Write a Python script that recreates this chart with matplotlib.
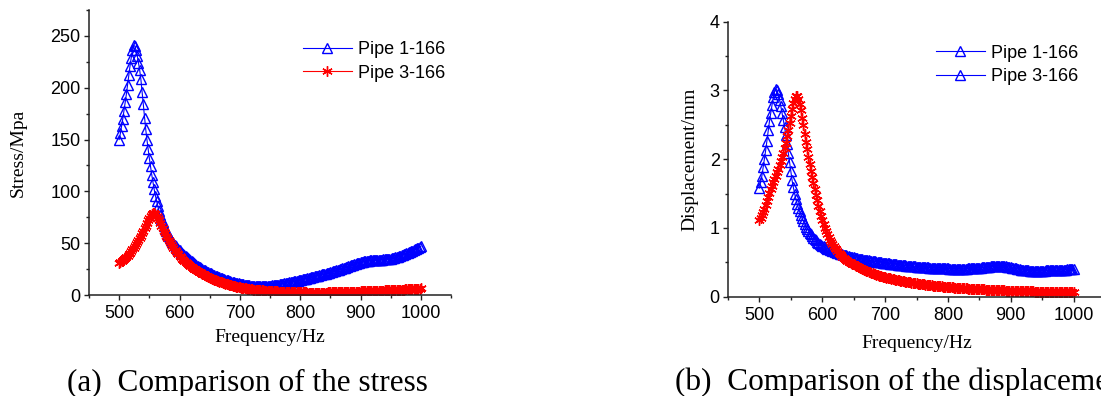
import numpy as np
import matplotlib
matplotlib.use("Agg")
import matplotlib.pyplot as plt
from matplotlib.lines import Line2D
from matplotlib.ticker import MultipleLocator

freq = np.arange(500, 1001, 2)

stress_pipe1 = [
    150, 156, 163, 170, 178, 186, 194, 203, 212, 221,
    229, 236, 241, 240, 236, 231, 224, 217, 208, 196,
    184, 171, 160, 150, 141, 132, 124, 116, 109, 102,
    96, 91, 86, 81, 77, 73, 70, 67, 64, 61.5,
    59, 57, 55, 53, 51.5, 50, 48.5, 47, 45.5, 44.2,
    43, 41.8, 40.6, 39.5, 38.4, 37.3, 36.3, 35.3, 34.3, 33.4,
    32.5, 31.6, 30.7, 29.9, 29.1, 28.3, 27.5, 26.8, 26.0, 25.3,
    24.6, 23.9, 23.3, 22.6, 22.0, 21.4, 20.8, 20.2, 19.7, 19.1,
    18.6, 18.1, 17.6, 17.1, 16.6, 16.2, 15.7, 15.3, 14.9, 14.5,
    14.1, 13.7, 13.3, 13.0, 12.6, 12.3, 12.0, 11.7, 11.4, 11.1,
    10.8, 10.6, 10.4, 10.2, 10.0, 9.8, 9.6, 9.4, 9.3, 9.1,
    9.0, 8.9, 8.8, 8.7, 8.6, 8.6, 8.5, 8.5, 8.5, 8.5,
    8.5, 8.5, 8.6, 8.7, 8.8, 8.9, 9.0, 9.2, 9.3, 9.5,
    9.7, 9.9, 10.1, 10.3, 10.5, 10.7, 10.9, 11.1, 11.4, 11.6,
    11.9, 12.1, 12.3, 12.6, 12.8, 13.1, 13.3, 13.6, 13.9, 14.2,
    14.5, 14.8, 15.1, 15.4, 15.6, 15.9, 16.2, 16.5, 16.8, 17.0,
    17.3, 17.6, 17.9, 18.2, 18.5, 18.8, 19.1, 19.4, 19.8, 20.1,
    20.4, 20.7, 21.0, 21.3, 21.7, 22.0, 22.4, 22.7, 23.1, 23.4,
    23.8, 24.2, 24.6, 24.9, 25.3, 25.7, 26.1, 26.5, 26.9, 27.3,
    27.7, 28.1, 28.5, 28.9, 29.4, 29.8, 30.2, 30.6, 30.9, 31.3,
    31.6, 31.9, 32.2, 32.4, 32.7, 32.9, 33.0, 33.2, 33.3, 33.5,
    33.6, 33.7, 33.8, 33.8, 33.9, 34.0, 34.1, 34.1, 34.2, 34.3,
    34.4, 34.5, 34.7, 34.8, 35.0, 35.2, 35.4, 35.7, 35.9, 36.2,
    36.6, 37.0, 37.4, 37.8, 38.2, 38.6, 39.1, 39.6, 40.1, 40.7,
    41.2, 41.8, 42.3, 42.9, 43.4, 44.0, 44.6, 45.2, 45.8, 46.4,
    47.0,
]

stress_pipe3 = [
    31, 32, 33, 34, 35, 36, 37, 38, 39.5, 41,
    42.5, 44, 45.5, 47, 49, 51, 53, 55, 57, 59.5,
    62, 64.5, 67, 69.5, 72, 74.5, 76.5, 78, 79, 79,
    78, 76.5, 74.5, 72, 69.5, 67, 64.5, 62, 59.5, 57,
    55, 53, 51, 49, 47.2, 45.5, 43.9, 42.3, 40.8, 39.3,
    37.5, 36.3, 35.1, 34.0, 32.9, 31.9, 30.9, 29.9, 29.0, 28.1,
    27.2, 26.3, 25.5, 24.7, 23.9, 23.2, 22.5, 21.8, 21.1, 20.4,
    19.8, 19.2, 18.6, 18.0, 17.4, 16.8, 16.3, 15.8, 15.3, 14.8,
    14.3, 13.8, 13.4, 13.0, 12.5, 12.1, 11.7, 11.3, 11.0, 10.6,
    10.3, 9.9, 9.6, 9.3, 9.0, 8.7, 8.4, 8.1, 7.9, 7.6,
    7.4, 7.1, 6.9, 6.7, 6.5, 6.3, 6.1, 5.9, 5.8, 5.6,
    5.4, 5.3, 5.2, 5.0, 4.9, 4.8, 4.7, 4.6, 4.5, 4.4,
    4.3, 4.2, 4.1, 4.0, 3.9, 3.8, 3.7, 3.7, 3.6, 3.5,
    3.4, 3.4, 3.3, 3.2, 3.2, 3.1, 3.1, 3.0, 3.0, 2.9,
    2.9, 2.8, 2.8, 2.8, 2.7, 2.7, 2.7, 2.6, 2.6, 2.6,
    2.6, 2.5, 2.5, 2.5, 2.5, 2.5, 2.4, 2.4, 2.4, 2.4,
    2.4, 2.4, 2.4, 2.4, 2.4, 2.4, 2.4, 2.4, 2.4, 2.4,
    2.4, 2.4, 2.4, 2.5, 2.5, 2.5, 2.5, 2.5, 2.5, 2.6,
    2.6, 2.6, 2.6, 2.7, 2.7, 2.7, 2.8, 2.8, 2.8, 2.9,
    2.9, 3.0, 3.0, 3.0, 3.1, 3.1, 3.2, 3.2, 3.3, 3.3,
    3.4, 3.4, 3.5, 3.5, 3.6, 3.6, 3.7, 3.7, 3.8, 3.8,
    3.9, 3.9, 4.0, 4.0, 4.1, 4.1, 4.2, 4.2, 4.3, 4.3,
    4.4, 4.4, 4.5, 4.5, 4.6, 4.6, 4.7, 4.7, 4.8, 4.9,
    4.9, 5.0, 5.0, 5.1, 5.2, 5.2, 5.3, 5.4, 5.4, 5.5,
    5.6, 5.6, 5.7, 5.8, 5.8, 5.9, 6.0, 6.0, 6.1, 6.2,
    6.3,
]

disp_pipe1 = [
    1.58, 1.67, 1.76, 1.88, 2.00, 2.13, 2.27, 2.42, 2.55, 2.67,
    2.79, 2.90, 2.98, 3.02, 3.00, 2.94, 2.86, 2.77, 2.67, 2.57,
    2.47, 2.35, 2.22, 2.09, 1.96, 1.82, 1.69, 1.59, 1.50, 1.42,
    1.35, 1.29, 1.24, 1.19, 1.14, 1.10, 1.06, 1.02, 0.99, 0.96,
    0.93, 0.905, 0.88, 0.86, 0.84, 0.82, 0.80, 0.785, 0.77, 0.755,
    0.74, 0.73, 0.72, 0.71, 0.70, 0.69, 0.68, 0.675, 0.668, 0.66,
    0.653, 0.646, 0.64, 0.633, 0.627, 0.621, 0.615, 0.61, 0.604, 0.599,
    0.594, 0.589, 0.584, 0.58, 0.575, 0.571, 0.567, 0.563, 0.559, 0.555,
    0.551, 0.547, 0.544, 0.54, 0.537, 0.533, 0.53, 0.527, 0.524, 0.521,
    0.518, 0.515, 0.512, 0.509, 0.506, 0.503, 0.50, 0.498, 0.495, 0.493,
    0.49, 0.488, 0.485, 0.483, 0.48, 0.478, 0.476, 0.473, 0.471, 0.469,
    0.467, 0.465, 0.463, 0.461, 0.459, 0.457, 0.455, 0.453, 0.451, 0.449,
    0.447, 0.445, 0.443, 0.441, 0.44, 0.438, 0.436, 0.435, 0.433, 0.432,
    0.43, 0.429, 0.427, 0.426, 0.425, 0.423, 0.422, 0.421, 0.42, 0.419,
    0.418, 0.417, 0.416, 0.415, 0.414, 0.413, 0.412, 0.411, 0.411, 0.41,
    0.41, 0.409, 0.409, 0.408, 0.408, 0.408, 0.407, 0.407, 0.407, 0.407,
    0.407, 0.407, 0.408, 0.408, 0.409, 0.409, 0.41, 0.411, 0.412, 0.413,
    0.414, 0.415, 0.417, 0.418, 0.42, 0.421, 0.423, 0.425, 0.427, 0.429,
    0.431, 0.433, 0.435, 0.437, 0.439, 0.44, 0.442, 0.443, 0.444, 0.445,
    0.445, 0.445, 0.445, 0.444, 0.443, 0.441, 0.439, 0.436, 0.433, 0.43,
    0.427, 0.423, 0.419, 0.415, 0.411, 0.407, 0.403, 0.399, 0.395, 0.391,
    0.388, 0.386, 0.384, 0.382, 0.381, 0.38, 0.379, 0.379, 0.378, 0.378,
    0.378, 0.378, 0.378, 0.378, 0.379, 0.379, 0.38, 0.38, 0.381, 0.381,
    0.382, 0.383, 0.383, 0.384, 0.385, 0.386, 0.387, 0.388, 0.389, 0.39,
    0.391, 0.392, 0.393, 0.394, 0.395, 0.396, 0.397, 0.398, 0.399, 0.40,
    0.40,
]

disp_pipe3 = [
    1.12, 1.15, 1.19, 1.23, 1.28, 1.33, 1.39, 1.45, 1.51, 1.56,
    1.61, 1.66, 1.71, 1.76, 1.81, 1.86, 1.91, 1.97, 2.03, 2.09,
    2.16, 2.24, 2.33, 2.43, 2.53, 2.63, 2.73, 2.81, 2.87, 2.91,
    2.91, 2.87, 2.80, 2.71, 2.60, 2.49, 2.37, 2.25, 2.14, 2.03,
    1.93, 1.83, 1.74, 1.65, 1.56, 1.48, 1.40, 1.32, 1.24, 1.17,
    1.11, 1.05, 1.00, 0.95, 0.91, 0.87, 0.83, 0.80, 0.77, 0.74,
    0.71, 0.69, 0.66, 0.64, 0.62, 0.60, 0.58, 0.565, 0.55, 0.535,
    0.52, 0.51, 0.50, 0.49, 0.48, 0.47, 0.46, 0.45, 0.44, 0.43,
    0.42, 0.41, 0.40, 0.392, 0.384, 0.376, 0.368, 0.36, 0.353, 0.346,
    0.339, 0.332, 0.326, 0.32, 0.314, 0.308, 0.302, 0.297, 0.292, 0.287,
    0.282, 0.278, 0.274, 0.27, 0.265, 0.261, 0.257, 0.253, 0.249, 0.245,
    0.241, 0.237, 0.234, 0.23, 0.227, 0.223, 0.22, 0.217, 0.213, 0.21,
    0.207, 0.204, 0.201, 0.198, 0.196, 0.193, 0.19, 0.188, 0.185, 0.183,
    0.18, 0.178, 0.175, 0.173, 0.171, 0.169, 0.166, 0.164, 0.162, 0.16,
    0.158, 0.156, 0.154, 0.152, 0.151, 0.149, 0.147, 0.145, 0.144, 0.142,
    0.14, 0.139, 0.137, 0.136, 0.134, 0.133, 0.131, 0.13, 0.129, 0.127,
    0.126, 0.125, 0.123, 0.122, 0.121, 0.12, 0.118, 0.117, 0.116, 0.115,
    0.114, 0.113, 0.112, 0.111, 0.11, 0.109, 0.108, 0.107, 0.106, 0.105,
    0.104, 0.103, 0.102, 0.101, 0.1, 0.099, 0.098, 0.097, 0.096, 0.096,
    0.095, 0.094, 0.093, 0.092, 0.092, 0.091, 0.09, 0.089, 0.089, 0.088,
    0.087, 0.086, 0.086, 0.085, 0.084, 0.084, 0.083, 0.082, 0.082, 0.081,
    0.08, 0.08, 0.079, 0.079, 0.078, 0.077, 0.077, 0.076, 0.076, 0.075,
    0.075, 0.074, 0.074, 0.073, 0.073, 0.072, 0.072, 0.071, 0.071, 0.07,
    0.07, 0.07, 0.069, 0.069, 0.068, 0.068, 0.068, 0.067, 0.067, 0.066,
    0.066, 0.066, 0.065, 0.065, 0.065, 0.064, 0.064, 0.064, 0.063, 0.063,
    0.063,
]

labels = ["Pipe 1-166", "Pipe 3-166"]
captions = ["(a)  Comparison of the stress", "(b)  Comparison of the displacement"]

BLUE = "#0000ff"
RED = "#ff0000"
SANS = ["Liberation Sans", "DejaVu Sans"]
SERIF = ["Liberation Serif", "DejaVu Serif"]
ASTER = (6, 2, 0)

W, H = 1101, 396
fig = plt.figure(figsize=(W / 100, H / 100), dpi=100)


def px_axes(x0, x1, ytop, ybot):
    return fig.add_axes([x0 / W, (H - ybot) / H, (x1 - x0) / W, (ybot - ytop) / H])


ax1 = px_axes(89, 451, 10, 295)
ax2 = px_axes(728, 1105, 21.5, 296.7)

blue_kw = dict(color=BLUE, lw=0.8, marker="^", markersize=6.5, mfc="none",
               mec=BLUE, mew=1.0)
red_kw = dict(color=RED, lw=0.8, marker=ASTER, markersize=7.5, mec=RED, mew=1.0)

ax1.plot(freq, stress_pipe1, **blue_kw)
ax1.plot(freq, stress_pipe3, **red_kw)
ax2.plot(freq, disp_pipe1, **blue_kw)
ax2.plot(freq, disp_pipe3, **red_kw)

ax1.set_xlim(450, 1050)
ax1.set_ylim(0, 275)
ax1.xaxis.set_major_locator(MultipleLocator(100))
ax1.xaxis.set_minor_locator(MultipleLocator(50))
ax1.yaxis.set_major_locator(MultipleLocator(50))
ax1.yaxis.set_minor_locator(MultipleLocator(25))

ax2.set_xlim(450, 1050)
ax2.set_ylim(0, 4)
ax2.xaxis.set_major_locator(MultipleLocator(100))
ax2.xaxis.set_minor_locator(MultipleLocator(50))
ax2.yaxis.set_major_locator(MultipleLocator(1))
ax2.yaxis.set_minor_locator(MultipleLocator(0.5))

for ax in (ax1, ax2):
    ax.spines["top"].set_visible(False)
    ax.spines["right"].set_visible(False)
    for s in ("left", "bottom"):
        ax.spines[s].set_linewidth(1.1)
        ax.spines[s].set_color("#222222")
    ax.tick_params(which="major", direction="out", length=3.5, width=1.0,
                   color="#222222", pad=2.5)
    ax.tick_params(axis="x", which="major", pad=4)
    ax.tick_params(which="minor", direction="out", length=2.5, width=1.0,
                   color="#222222")
    for lab in ax.get_xticklabels() + ax.get_yticklabels():
        lab.set_fontfamily(SANS)
        lab.set_fontsize(13)

ax1.set_xlabel("Frequency/Hz", fontfamily=SERIF, fontsize=14, labelpad=5)
ax2.set_xlabel("Frequency/Hz", fontfamily=SERIF, fontsize=14, labelpad=8)
ax1.set_ylabel("Stress/Mpa", fontfamily=SERIF, fontsize=14, labelpad=17)
ax2.set_ylabel("Displacement/mm", fontfamily=SERIF, fontsize=14, labelpad=8)

# Legends
h_blue = Line2D([], [], **blue_kw)
h_red = Line2D([], [], **red_kw)
leg_kw = dict(frameon=False, prop={"family": SANS, "size": 13}, handlelength=2.7,
              handletextpad=0.35, labelspacing=0.35, borderaxespad=0, borderpad=0,
              loc="upper left", numpoints=1)
ax1.legend([h_blue, h_red], labels, bbox_to_anchor=(0.591, 0.89), **leg_kw)
ax2.legend([h_blue, Line2D([], [], **blue_kw)], labels,
           bbox_to_anchor=(0.552, 0.916), **leg_kw)

fig.text(67 / W, (H - 390.5) / H, captions[0], fontfamily=SERIF, fontsize=22.5,
         ha="left", va="baseline")
fig.text(675 / W, (H - 390) / H, captions[1], fontfamily=SERIF, fontsize=22.5,
         ha="left", va="baseline")

fig.savefig("out.png", dpi=100)
